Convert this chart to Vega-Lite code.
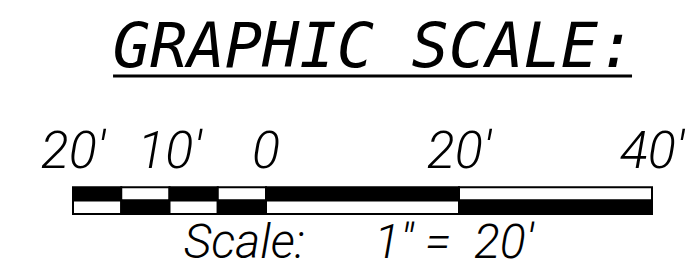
{
  "$schema": "https://vega.github.io/schema/vega-lite/v6.json",
  "width": 686,
  "height": 276,
  "padding": 0,
  "autosize": {"type": "none"},
  "background": "white",
  "config": {"view": {"stroke": null}},
  "datasets": {
    "cells": [
      {"from": -20, "to": -15, "top": 190, "bottom": 203.5, "shade": "black"},
      {"from": -15, "to": -10, "top": 190, "bottom": 203.5, "shade": "white"},
      {"from": -10, "to": -5, "top": 190, "bottom": 203.5, "shade": "black"},
      {"from": -5, "to": 0, "top": 190, "bottom": 203.5, "shade": "white"},
      {"from": 0, "to": 20, "top": 190, "bottom": 203.5, "shade": "black"},
      {"from": 20, "to": 40, "top": 190, "bottom": 203.5, "shade": "white"},
      {"from": -20, "to": -15, "top": 203.5, "bottom": 217, "shade": "white"},
      {"from": -15, "to": -10, "top": 203.5, "bottom": 217, "shade": "black"},
      {"from": -10, "to": -5, "top": 203.5, "bottom": 217, "shade": "white"},
      {"from": -5, "to": 0, "top": 203.5, "bottom": 217, "shade": "black"},
      {"from": 0, "to": 20, "top": 203.5, "bottom": 217, "shade": "white"},
      {"from": 20, "to": 40, "top": 203.5, "bottom": 217, "shade": "black"}
    ],
    "ticks": [
      {"ft": -20, "label": "20'", "base": 170},
      {"ft": -10, "label": "10'", "base": 170},
      {"ft": 0, "label": "0", "base": 170},
      {"ft": 20, "label": "20'", "base": 170},
      {"ft": 40, "label": "40'", "base": 170}
    ],
    "title": [
      {"ft": 11.2, "label": "GRAPHIC SCALE:", "base": 68}
    ],
    "underline": [
      {"from": -15.85, "to": 37.93, "level": 77}
    ],
    "note": [
      {"ft": 9.6, "label": "Scale:\u00a0\u00a0\u00a0\u00a0\u00a0\u00a01\"\u00a0=\u00a0\u00a020'", "base": 262}
    ]
  },
  "encoding": {},
  "layer": [
    {
      "data": {"name": "cells"},
      "mark": {"type": "rect", "stroke": "#000000", "strokeWidth": 2},
      "encoding": {
        "x": {"field": "from", "type": "quantitative", "scale": {"domain": [-20, 40], "range": [73, 652]}, "axis": null},
        "x2": {"field": "to"},
        "y": {"field": "top", "type": "quantitative", "scale": {"domain": [0, 276], "range": [0, 276]}, "axis": null},
        "y2": {"field": "bottom"},
        "color": {"field": "shade", "type": "nominal", "scale": {"domain": ["black", "white"], "range": ["#000000", "#ffffff"]}, "legend": null}
      }
    },
    {
      "data": {"name": "ticks"},
      "mark": {"type": "text", "font": "Roboto", "fontWeight": 300, "fontStyle": "italic", "fontSize": 52, "baseline": "alphabetic", "align": "center", "color": "#000000"},
      "encoding": {
        "x": {"field": "ft", "type": "quantitative"},
        "y": {"field": "base", "type": "quantitative"},
        "text": {"field": "label"}
      }
    },
    {
      "data": {"name": "title"},
      "mark": {"type": "text", "font": "DejaVu Sans Mono", "fontStyle": "italic", "fontSize": 62, "baseline": "alphabetic", "align": "center", "color": "#000000"},
      "encoding": {
        "x": {"field": "ft", "type": "quantitative"},
        "y": {"field": "base", "type": "quantitative"},
        "text": {"field": "label"}
      }
    },
    {
      "data": {"name": "underline"},
      "mark": {"type": "rule", "strokeWidth": 3, "color": "#000000"},
      "encoding": {
        "x": {"field": "from", "type": "quantitative"},
        "x2": {"field": "to"},
        "y": {"field": "level", "type": "quantitative"}
      }
    },
    {
      "data": {"name": "note"},
      "mark": {"type": "text", "font": "Roboto", "fontWeight": 300, "fontStyle": "italic", "fontSize": 48, "baseline": "alphabetic", "align": "center", "color": "#000000"},
      "encoding": {
        "x": {"field": "ft", "type": "quantitative"},
        "y": {"field": "base", "type": "quantitative"},
        "text": {"field": "label"}
      }
    }
  ]
}
